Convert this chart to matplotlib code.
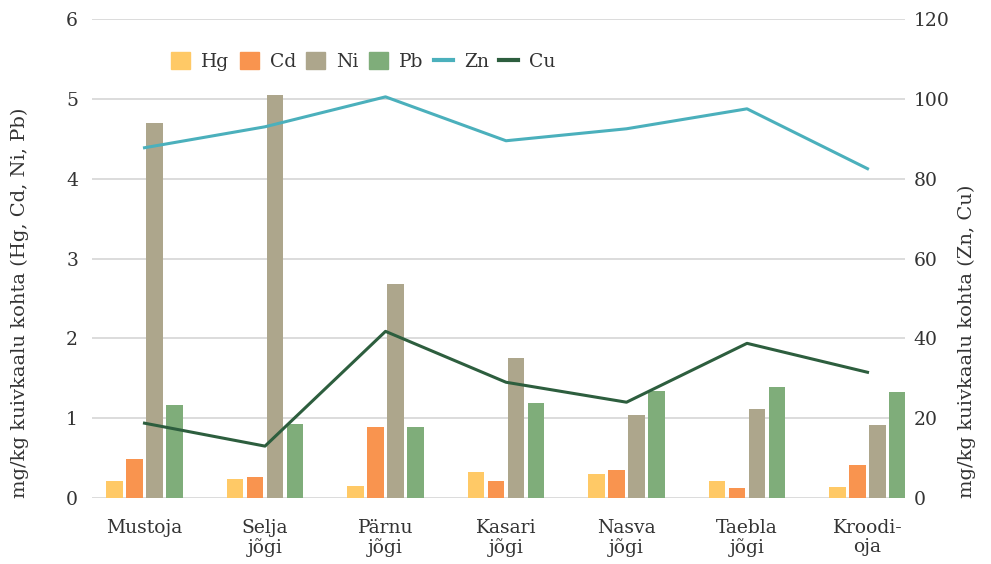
import matplotlib
matplotlib.use("Agg")
import matplotlib.pyplot as plt
from matplotlib.patches import Patch
from matplotlib.lines import Line2D
import numpy as np

plt.rcParams['font.family'] = ['DejaVu Serif']

categories = ["Mustoja", "Selja\njõgi", "Pärnu\njõgi", "Kasari\njõgi", "Nasva\njõgi", "Taebla\njõgi", "Kroodi-\noja"]
hg = [0.21, 0.24, 0.15, 0.325, 0.30, 0.21, 0.14]
cd = [0.49, 0.26, 0.89, 0.21, 0.35, 0.125, 0.41]
ni = [4.70, 5.05, 2.68, 1.75, 1.04, 1.11, 0.91]
pb = [1.16, 0.925, 0.89, 1.19, 1.34, 1.39, 1.325]
zn = [87.75, 93.0, 100.5, 89.5, 92.5, 97.5, 82.5]
cu = [18.75, 13.0, 41.75, 29.0, 24.0, 38.75, 31.5]

left_ticks = [0, 1, 2, 3, 4, 5, 6]
right_ticks = [0, 20, 40, 60, 80, 100, 120]

colors = {"Hg": "#FFC966", "Cd": "#F9944F", "Ni": "#ADA68C", "Pb": "#7FAD7A",
          "Zn": "#4BB0BC", "Cu": "#2D5E3E"}
text_color = "#333333"
grid_color = "#D9D9D9"

fig = plt.figure(figsize=(9.91, 5.64), dpi=100)
ax = fig.add_axes([0.0928, 0.117, 0.8204, 0.8493])
ax2 = ax.twinx()

x = np.arange(len(categories))
w = 0.133
step = 0.166
for i, (name, vals) in enumerate([("Hg", hg), ("Cd", cd), ("Ni", ni), ("Pb", pb)]):
    ax.bar(x + (i - 1.5) * step, vals, width=w, color=colors[name], zorder=3)

ax2.plot(x, zn, color=colors["Zn"], lw=2.2, zorder=4)
ax2.plot(x, cu, color=colors["Cu"], lw=2.2, zorder=4)

ax.set_xlim(-0.436, 6.311)
ax.set_ylim(0, 6)
ax2.set_ylim(0, 120)
ax.set_yticks(left_ticks)
ax2.set_yticks(right_ticks)
ax.set_xticks(x)
ax.set_xticklabels(categories, fontsize=13, color=text_color, linespacing=1.1)
ax.yaxis.grid(True, color=grid_color, lw=1.3, zorder=0)
ax.set_axisbelow(True)
for a in (ax, ax2):
    for s in a.spines.values():
        s.set_visible(False)
    a.tick_params(length=0, labelsize=13.5, colors=text_color)
ax.tick_params(axis='y', pad=10)
ax2.tick_params(axis='y', pad=6)
ax.tick_params(axis='x', pad=15)

ax.set_ylabel("mg/kg kuivkaalu kohta (Hg, Cd, Ni, Pb)", fontsize=14, color=text_color)
ax2.set_ylabel("mg/kg kuivkaalu kohta (Zn, Cu)", fontsize=14, color=text_color)
ax.yaxis.set_label_coords(-0.077, (564 - 303 - 66) / 479.0)
ax2.yaxis.set_label_coords(1.065, (564 - 341 - 66) / 479.0)

handles = [Patch(color=colors[k]) for k in ["Hg", "Cd", "Ni", "Pb"]] + \
          [Line2D([], [], color=colors[k], lw=3) for k in ["Zn", "Cu"]]
labels = ["Hg", "Cd", "Ni", "Pb", "Zn", "Cu"]
leg = ax.legend(handles, labels, ncol=6, loc="center", bbox_to_anchor=(0.334, 0.911),
                frameon=False, fontsize=13.5, handlelength=1.0, handleheight=1.0,
                columnspacing=0.55, handletextpad=0.6)
for t in leg.get_texts():
    t.set_color(text_color)

fig.savefig("out.png", dpi=100)
